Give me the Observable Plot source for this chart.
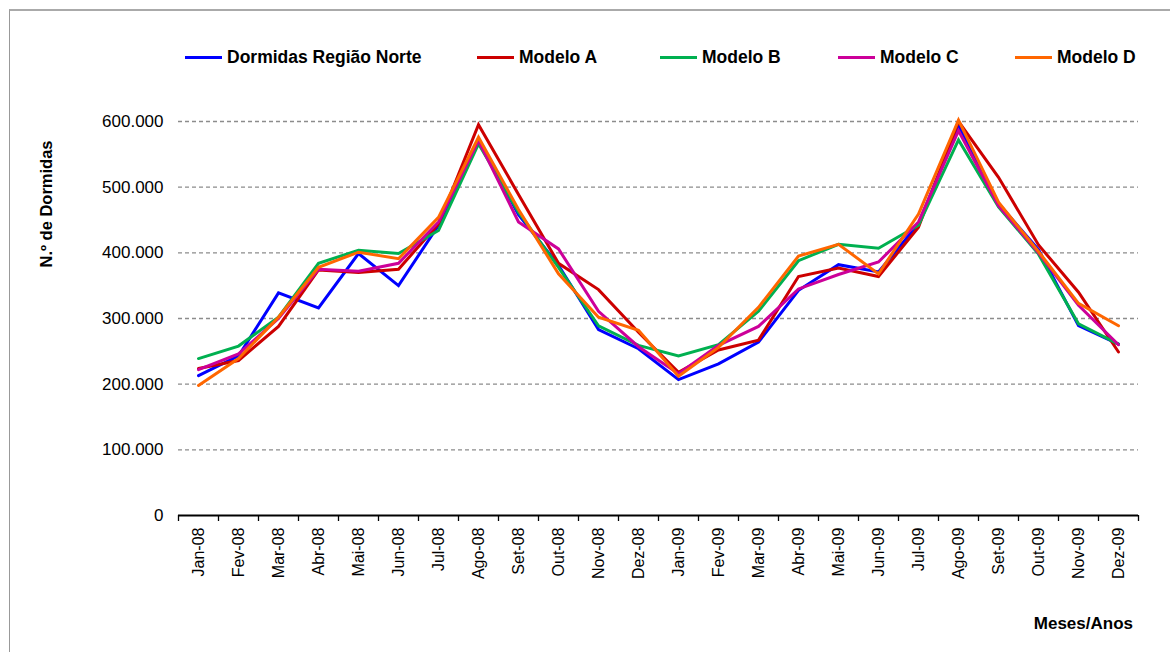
<!DOCTYPE html>
<html>
<head>
<meta charset="utf-8">
<script src="https://cdn.jsdelivr.net/npm/d3@7"></script>
<script src="https://cdn.jsdelivr.net/npm/@observablehq/plot@0.6"></script>
<style>
  html, body { margin: 0; padding: 0; background: #fff; }
  #wrap { position: relative; width: 1170px; height: 652px; overflow: hidden; font-family: "Liberation Sans", Arial, sans-serif; }
  #frame { position: absolute; left: 9px; top: 9px; width: 1200px; height: 700px; border-top: 2px solid #aaaaaa; border-left: 1px solid #999999; box-sizing: border-box; }
  #legend { position: relative; height: 90px; }
  .item { position: absolute; top: 47px; height: 20px; display: flex; align-items: center; font-weight: bold; font-size: 17.5px; color: #000; white-space: nowrap; }
  .swatch { display: inline-block; width: 37px; height: 3px; margin-right: 5px; }
  #ytitle { position: absolute; left: 46px; top: 204px; transform: translate(-50%, -50%) rotate(-90deg); font-weight: bold; font-size: 16.5px; white-space: nowrap; }
  #xtitle { position: absolute; right: 37px; top: 614px; font-weight: bold; font-size: 17px; white-space: nowrap; }
  #chart svg { display: block; }
</style>
</head>
<body>
<div id="wrap">
  <div id="frame"></div>
  <div id="legend"></div>
  <div id="chart"></div>
  <div id="ytitle">N.º de Dormidas</div>
  <div id="xtitle">Meses/Anos</div>
</div>
<script>
const months = ["Jan-08","Fev-08","Mar-08","Abr-08","Mai-08","Jun-08","Jul-08","Ago-08","Set-08","Out-08","Nov-08","Dez-08",
                "Jan-09","Fev-09","Mar-09","Abr-09","Mai-09","Jun-09","Jul-09","Ago-09","Set-09","Out-09","Nov-09","Dez-09"];

const seriesNames = ["Dormidas Região Norte", "Modelo A", "Modelo B", "Modelo C", "Modelo D"];
const seriesColors = ["#0000ff", "#cc0000", "#00b050", "#cc0099", "#ff6600"];

// values in thousands of nights
const dormidas = [213, 243, 339, 316, 399, 350, 442, 572, 458, 381, 283, 254, 207, 231, 264, 343, 382, 371, 444, 594, 475, 405, 289, 261];
const modeloA  = [224, 236, 288, 374, 370, 375, 444, 595, 489, 384, 344, 279, 218, 252, 267, 364, 377, 364, 439, 600, 515, 412, 340, 249];
const modeloB  = [239, 258, 302, 384, 404, 399, 434, 566, 462, 378, 289, 259, 243, 260, 311, 388, 413, 407, 442, 572, 470, 398, 292, 261];
const modeloC  = [222, 246, 300, 375, 372, 384, 447, 571, 447, 406, 311, 257, 216, 259, 288, 345, 367, 386, 447, 586, 472, 400, 320, 260];
const modeloD  = [198, 239, 302, 378, 401, 391, 454, 576, 466, 368, 302, 282, 212, 256, 317, 395, 413, 368, 459, 602, 477, 402, 323, 289];

const yTicks = [0, 100000, 200000, 300000, 400000, 500000, 600000];

const allSeries = [dormidas, modeloA, modeloB, modeloC, modeloD];

// legend
const legendPos = [185, 477, 660, 838, 1015];
const legend = document.getElementById("legend");
seriesNames.forEach((name, i) => {
  const it = document.createElement("div");
  it.className = "item";
  it.style.left = legendPos[i] + "px";
  const sw = document.createElement("span");
  sw.className = "swatch";
  sw.style.background = seriesColors[i];
  it.appendChild(sw);
  it.appendChild(document.createTextNode(name));
  legend.appendChild(it);
});

const locale = d3.formatLocale({decimal: ",", thousands: ".", grouping: [3], currency: ["", "€"]});
const fmt = locale.format(",");

const lineMarks = allSeries.map((vals, s) =>
  Plot.line(vals.map((v, i) => ({i, v: v * 1000})), {x: "i", y: "v", stroke: seriesColors[s], strokeWidth: 3, strokeLinejoin: "miter", strokeMiterlimit: 3})
);

const chart = Plot.plot({
  width: 1170,
  height: 562,
  marginTop: 31,
  marginBottom: 137,
  marginLeft: 178,
  marginRight: 32,
  style: {fontFamily: "'Liberation Sans', Arial, sans-serif", fontSize: "17px", color: "#000", background: "transparent"},
  x: {type: "linear", domain: [-0.5, 23.5]},
  y: {domain: [0, 600000]},
  marks: [
    Plot.gridY(yTicks.filter(d => d > 0), {stroke: "#8c8c8c", strokeOpacity: 1, strokeDasharray: "4,3", strokeWidth: 1.3}),
    Plot.axisY({ticks: yTicks, tickSize: 0, tickPadding: 15, tickFormat: fmt, label: null, fontSize: 17}),
    Plot.axisX({ticks: d3.range(-0.5, 24, 1), tickSize: 6, tickFormat: () => "", label: null, strokeWidth: 1.3}),
    Plot.axisX({ticks: d3.range(0, 24), tickSize: 0, tickPadding: 12, tickRotate: -90, tickFormat: i => months[i], label: null, fontSize: 16}),
    Plot.ruleY([0], {stroke: "#000", strokeWidth: 2}),
    ...lineMarks
  ]
});
document.getElementById("chart").appendChild(chart);
</script>
</body>
</html>
